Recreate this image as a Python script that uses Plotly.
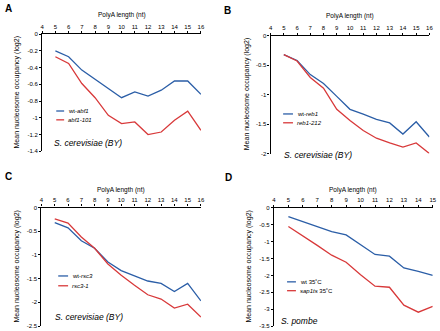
import plotly.graph_objects as go

# ---------------- data ----------------
x_a = [5, 6, 7, 8, 9, 10, 11, 12, 13, 14, 15, 16]
wt_abf1 = [-0.20, -0.27, -0.43, -0.54, -0.64, -0.76, -0.69, -0.74, -0.67, -0.56, -0.56, -0.72]
abf1_101 = [-0.27, -0.35, -0.59, -0.76, -0.97, -1.07, -1.05, -1.20, -1.17, -1.03, -0.92, -1.15]

x_b = [5, 6, 7, 8, 9, 10, 11, 12, 13, 14, 15, 16]
wt_reb1 = [-0.32, -0.42, -0.66, -0.81, -1.03, -1.25, -1.33, -1.42, -1.48, -1.67, -1.46, -1.72]
reb1_212 = [-0.32, -0.43, -0.71, -0.89, -1.25, -1.44, -1.61, -1.74, -1.82, -1.89, -1.82, -2.00]

x_c = [5, 6, 7, 8, 9, 10, 11, 12, 13, 14, 15, 16]
wt_rsc3 = [-0.32, -0.43, -0.70, -0.86, -1.15, -1.33, -1.44, -1.55, -1.60, -1.77, -1.60, -1.97]
rsc3_1 = [-0.24, -0.33, -0.62, -0.86, -1.19, -1.43, -1.64, -1.84, -1.93, -2.12, -2.04, -2.31]

x_d = [5, 6, 7, 8, 9, 10, 11, 12, 13, 14, 15]
wt_35 = [-0.26, -0.40, -0.55, -0.70, -0.80, -1.09, -1.38, -1.43, -1.78, -1.88, -2.00]
sap1ts_35 = [-0.55, -0.82, -1.11, -1.40, -1.61, -1.98, -2.32, -2.35, -2.88, -3.09, -2.92]

x_ticks_abc = [4, 5, 6, 7, 8, 9, 10, 11, 12, 13, 14, 15, 16]
x_ticks_d = [4, 5, 6, 7, 8, 9, 10, 11, 12, 13, 14, 15]
y_ticks_a = [0, -0.2, -0.4, -0.6, -0.8, -1, -1.2, -1.4]
y_text_a = ["0", "-0.2", "-0.4", "-0.6", "-0.8", "-1", "-1.2", "-1.4"]
y_ticks_b = [0, -0.5, -1, -1.5, -2]
y_text_b = ["0", "-0.5", "-1", "-1.5", "-2"]
y_ticks_c = [0, -0.5, -1, -1.5, -2, -2.5]
y_text_c = ["0", "-0.5", "-1", "-1.5", "-2", "-2.5"]
y_ticks_d = [0, -0.5, -1, -1.5, -2, -2.5, -3, -3.5]
y_text_d = ["0", "-0.5", "-1", "-1.5", "-2", "-2.5", "-3", "-3.5"]

BLUE = "#2b5ea7"
RED = "#d8393a"
FONT = "Arial, Liberation Sans, sans-serif"
W, H = 440, 331

def px_x(p):
    return p / W

def px_y(p):
    return 1 - p / H

panels = [
    dict(x=x_a, s1=wt_abf1, s2=abf1_101, n1="wt-<i>abf1</i>", n2="<i>abf1-101</i>",
         xt=x_ticks_abc, yt=y_ticks_a, ytt=y_text_a, xr=[4, 16], yr=[-1.4, 0],
         xd=[40.7, 201.7], yd=[31.7, 151], letter="A", lpos=(1, 6),
         species="<i>S. cerevisiae (BY)</i>", spos=(51, 143),
         leg=(55, 63, 110, 119), ttl=12, ylab=15),
    dict(x=x_b, s1=wt_reb1, s2=reb1_212, n1="wt-<i>reb1</i>", n2="<i>reb1-212</i>",
         xt=x_ticks_abc, yt=y_ticks_b, ytt=y_text_b, xr=[4, 16], yr=[-2, 0],
         xd=[272.3, 433.3], yd=[33.3, 153.3], letter="B", lpos=(223, 8),
         species="<i>S. cerevisiae (BY)</i>", spos=(284, 155),
         leg=(285, 295, 113, 122), ttl=13, ylab=248),
    dict(x=x_c, s1=wt_rsc3, s2=rsc3_1, n1="wt-<i>rsc3</i>", n2="<i>rsc3-1</i>",
         xt=x_ticks_abc, yt=y_ticks_c, ytt=y_text_c, xr=[4, 16], yr=[-2.5, 0],
         xd=[40, 201.7], yd=[208.3, 329], letter="C", lpos=(1, 177),
         species="<i>S. cerevisiae (BY)</i>", spos=(52, 320),
         leg=(57, 67, 278, 288), ttl=190, ylab=15),
    dict(x=x_d, s1=wt_35, s2=sap1ts_35, n1="wt 35˚C", n2="<i>sap1ts</i> 35˚C",
         xt=x_ticks_d, yt=y_ticks_d, ytt=y_text_d, xr=[4, 15], yr=[-3.5, 0],
         xd=[275.7, 436.7], yd=[208.7, 329], letter="D", lpos=(224, 178),
         species="<i>S. pombe</i>", spos=(281, 324),
         leg=(289, 298, 284, 293), ttl=190, ylab=250),
]

fig = go.Figure()
annotations = []
shapes = []
layout = dict(
    width=W, height=H, margin=dict(l=0, r=0, t=0, b=0),
    paper_bgcolor="white", plot_bgcolor="white",
    font=dict(family=FONT, size=6, color="black"),
    showlegend=False,
)

for i, p in enumerate(panels, start=1):
    xa = "x" if i == 1 else f"x{i}"
    ya = "y" if i == 1 else f"y{i}"
    fig.add_trace(go.Scatter(x=p["x"], y=p["s1"], mode="lines", name=p["n1"],
                             line=dict(color=BLUE, width=1.3), xaxis=xa, yaxis=ya))
    fig.add_trace(go.Scatter(x=p["x"], y=p["s2"], mode="lines", name=p["n2"],
                             line=dict(color=RED, width=1.3), xaxis=xa, yaxis=ya))
    xkey = "xaxis" if i == 1 else f"xaxis{i}"
    ykey = "yaxis" if i == 1 else f"yaxis{i}"
    layout[xkey] = dict(
        domain=[px_x(p["xd"][0]), px_x(p["xd"][1])], anchor=ya, side="top",
        range=p["xr"], tickvals=p["xt"], ticktext=[str(v) for v in p["xt"]],
        showline=True, linecolor="black", linewidth=1.2, ticks="outside",
        ticklen=2, tickwidth=1, tickcolor="black", showgrid=False, zeroline=False,
        tickfont=dict(size=6), fixedrange=True,
    )
    layout[ykey] = dict(
        domain=[px_y(p["yd"][1]), px_y(p["yd"][0])], anchor=xa,
        range=p["yr"], tickvals=p["yt"], ticktext=p["ytt"],
        showline=True, linecolor="black", linewidth=1.2, ticks="outside",
        ticklen=2, tickwidth=1, tickcolor="black", showgrid=False, zeroline=False,
        tickfont=dict(size=6), fixedrange=True,
    )
    # legend (manual, compact)
    lx0, lx1, ly1, ly2 = p["leg"]
    for color, name, ly in ((BLUE, p["n1"], ly1), (RED, p["n2"], ly2)):
        shapes.append(dict(type="line", xref="paper", yref="paper",
                           x0=px_x(lx0), x1=px_x(lx1), y0=px_y(ly), y1=px_y(ly),
                           line=dict(color=color, width=1.3)))
        annotations.append(dict(text=name, x=px_x(lx1 + 2), y=px_y(ly),
                                xref="paper", yref="paper", showarrow=False,
                                font=dict(size=6, family=FONT), xanchor="left", yanchor="middle"))
    xm = (p["xd"][0] + p["xd"][1]) / 2
    annotations.append(dict(text="PolyA length (nt)", x=px_x(xm), y=px_y(p["ttl"]),
                            xref="paper", yref="paper", showarrow=False,
                            font=dict(size=6.5, family=FONT), xanchor="center", yanchor="middle"))
    ym = (p["yd"][0] + p["yd"][1]) / 2
    annotations.append(dict(text="Mean nucleosome occupancy (log2)", x=px_x(p["ylab"]),
                            y=px_y(ym), xref="paper", yref="paper", showarrow=False,
                            textangle=-90, font=dict(size=7, family=FONT),
                            xanchor="center", yanchor="middle"))
    annotations.append(dict(text=f"<b>{p['letter']}</b>", x=px_x(p["lpos"][0]), y=px_y(p["lpos"][1]),
                            xref="paper", yref="paper", showarrow=False,
                            font=dict(size=10, family=FONT), xanchor="left", yanchor="middle"))
    annotations.append(dict(text=p["species"], x=px_x(p["spos"][0]), y=px_y(p["spos"][1]),
                            xref="paper", yref="paper", showarrow=False,
                            font=dict(size=8.5, family=FONT), xanchor="left", yanchor="middle"))

layout["annotations"] = annotations
layout["shapes"] = shapes
fig.update_layout(**layout)
fig.write_html("out.html", post_script="document.body.style.margin='0';",
               config={"displayModeBar": False})
